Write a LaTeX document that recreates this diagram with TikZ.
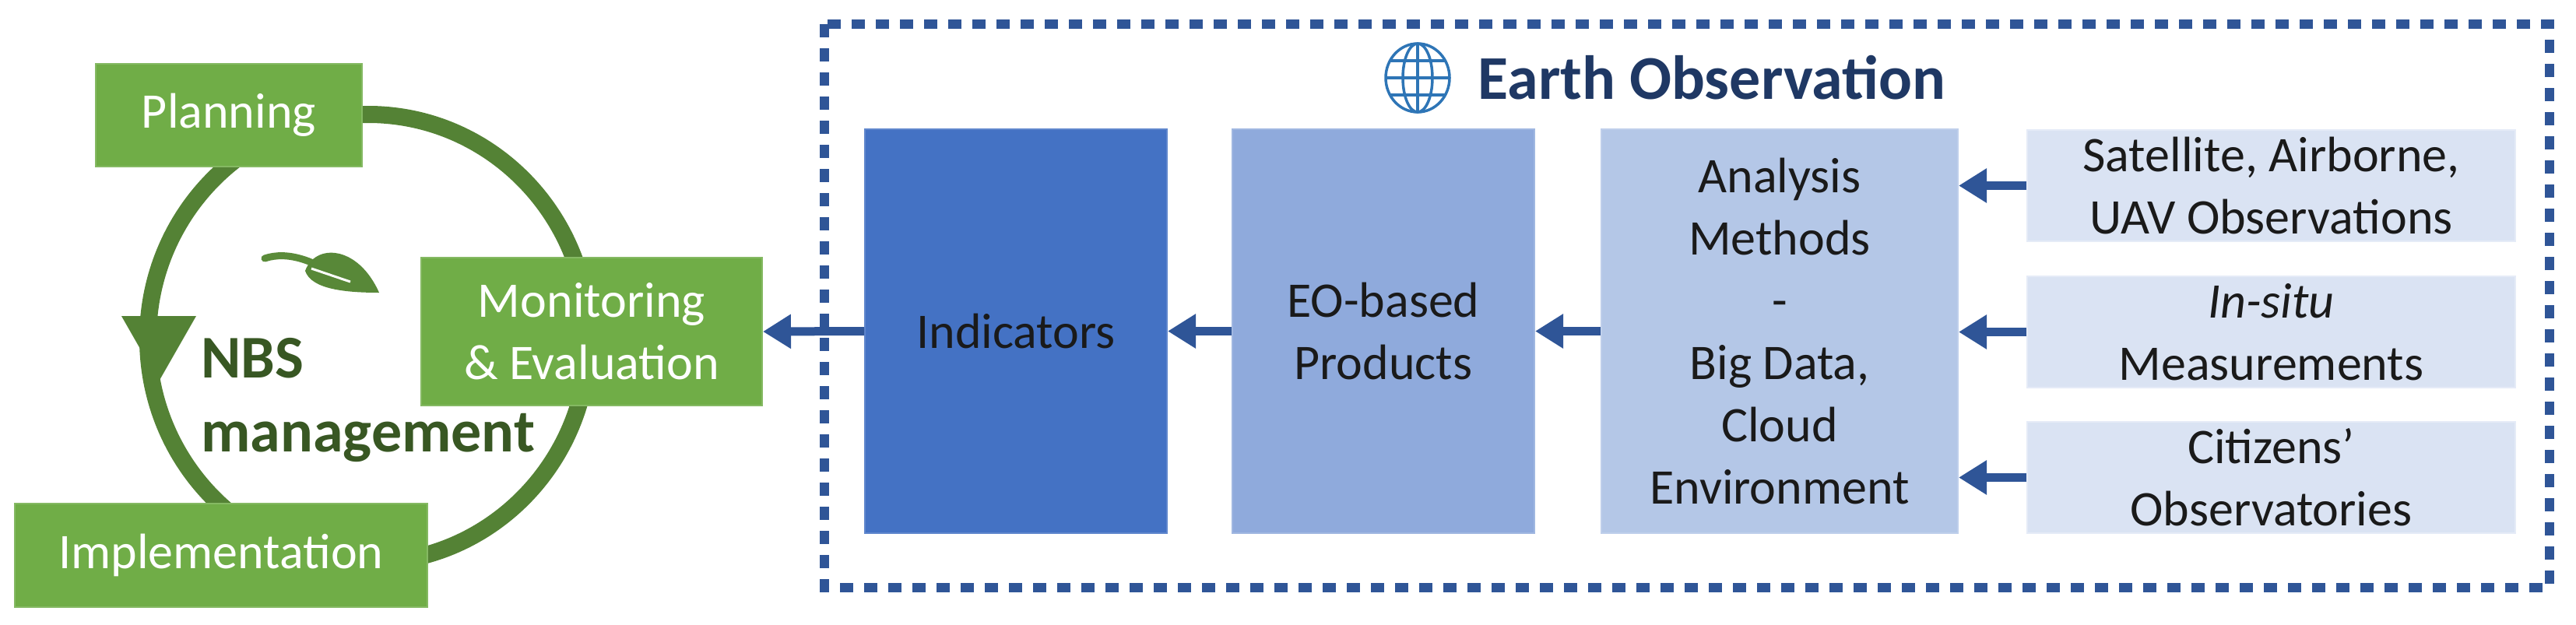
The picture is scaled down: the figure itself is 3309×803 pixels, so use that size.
\documentclass[tikz,border=0pt]{standalone}
\usepackage{fontspec}
\setmainfont{Carlito}
\usetikzlibrary{arrows.meta}
\definecolor{grn}{HTML}{70AD47}
\definecolor{dgrn}{HTML}{548235}
\definecolor{ddgrn}{HTML}{385723}
\definecolor{bA}{HTML}{4472C4}
\definecolor{bB}{HTML}{8FAADC}
\definecolor{bC}{HTML}{B4C7E7}
\definecolor{bD}{HTML}{DAE3F3}
\definecolor{arr}{HTML}{2F5597}
\definecolor{ttl}{HTML}{1F3864}
\definecolor{glb}{HTML}{2E75B6}
\definecolor{txt}{HTML}{1A1A1A}
\begin{document}
\begin{tikzpicture}[x=1pt,y=-1pt,
  gbox/.style={fill=grn,draw=grn!85!white,line width=2pt,inner sep=0pt,align=center,text=white,font=\fontsize{64}{80}\selectfont},
  bbox/.style={inner sep=0pt,align=center,text=txt,font=\fontsize{64}{80}\selectfont,line width=2pt},
  ar/.style={draw=arr,line width=11pt,-{Triangle[length=36pt,width=42pt]}}]
\useasboundingbox (0,0) rectangle (3309,803);
% ring
\draw[dgrn,line width=22pt] (473,435) ellipse [x radius=283, y radius=288];
\fill[dgrn] (156,406) -- (252,406) -- (204,490) -- cycle;
% leaf
\draw[dgrn!80!grn,line width=9pt,line cap=round] (340,332) .. controls (370,322) and (405,335) .. (440,360);
\fill[dgrn!85!grn] (392,348) .. controls (405,312) and (460,315) .. (487,376) .. controls (445,376) and (400,372) .. (392,348) -- cycle;
\draw[white,line width=3pt] (400,345) -- (450,362);
% texts
\node[font=\fontsize{78}{88}\selectfont\bfseries,text=ddgrn,anchor=west] (nbs) at (255,460) {NBS};
\node[font=\fontsize{78}{88}\selectfont\bfseries,text=ddgrn,anchor=west] (mgmt) at (255,562) {management};
% green boxes
\node[gbox,minimum width=342pt,minimum height=132pt] (plan) at (294,148) {Planning};
\node[gbox,minimum width=438pt,minimum height=190pt] (mon) at (760,426) {Monitoring\\\& Evaluation};
\node[gbox,minimum width=530pt,minimum height=133pt] (impl) at (284,713) {Implementation};
% frame
\draw[arr,line width=12pt,dash pattern=on 17pt off 14pt] (1059,31) rectangle (3275,755);
% title
\begin{scope}[glb,line width=3.5pt]
\draw (1821,100) ellipse [x radius=41, y radius=44];
\draw (1821,100) ellipse [x radius=19, y radius=44];
\draw (1821,56) -- (1821,144);
\draw (1780,100) -- (1862,100);
\draw (1786,78) -- (1856,78);
\draw (1786,122) -- (1856,122);
\end{scope}
\node[font=\fontsize{80}{88}\selectfont\bfseries,text=ttl,anchor=west] (title) at (1895,100) {Earth Observation};
% blue boxes
\node[bbox,fill=bA,draw=bA!85!white,minimum width=388pt,minimum height=519pt] (ind) at (1305,425.5) {Indicators};
\node[bbox,fill=bB,draw=bB!85!white,minimum width=388pt,minimum height=519pt] (eo) at (1777,425.5) {EO-based\\Products};
\node[bbox,fill=bC,draw=bC!85!white,minimum width=458pt,minimum height=519pt] (ana) at (2286,425.5) {Analysis\\Methods\\-\\Big Data,\\Cloud\\Environment};
\node[bbox,fill=bD,draw=bD!70!white,minimum width=627pt,minimum height=143pt] (s1) at (2917.5,238.5) {Satellite, Airborne,\\UAV Observations};
\node[bbox,fill=bD,draw=bD!70!white,minimum width=627pt,minimum height=143pt] (s2) at (2917.5,426.5) {\textit{In-situ}\\Measurements};
\node[bbox,fill=bD,draw=bD!70!white,minimum width=627pt,minimum height=143pt] (s3) at (2917.5,613.5) {Citizens’\\Observatories};
% arrows
\draw[ar] (s1.west) -- (ana.east |- s1.west);
\draw[ar] (s2.west) -- (ana.east |- s2.west);
\draw[ar] (s3.west) -- (ana.east |- s3.west);
\draw[ar] (ana.west |- eo.east) -- (eo.east);
\draw[ar] (eo.west) -- (ind.east);
\draw[ar] (ind.west) -- (mon.east);
\end{tikzpicture}
\end{document}
